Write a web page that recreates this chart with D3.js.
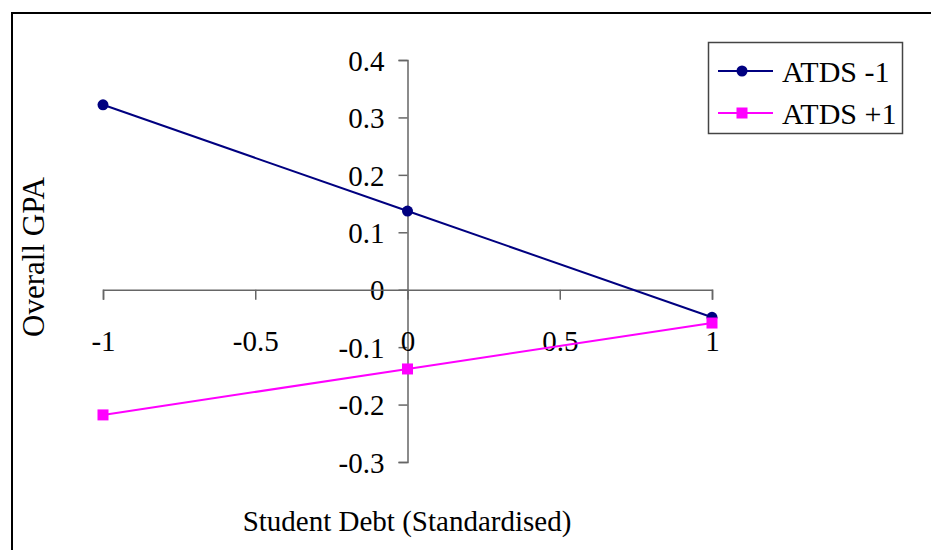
<!DOCTYPE html>
<html>
<head>
<meta charset="utf-8">
<script src="https://cdn.jsdelivr.net/npm/d3@7/dist/d3.min.js"></script>
<style>
  html, body { margin: 0; padding: 0; background: #fff; }
  svg { display: block; }
  text { font-family: "Liberation Serif", "Times New Roman", serif; fill: #000; }
</style>
</head>
<body>
<svg id="chart" width="931" height="550"></svg>
<script>
// Simple slopes: Overall GPA by standardised student debt at two ATDS levels
const debtLevels = [-1, 0, 1];
const atdsLow = [0.322, 0.137, -0.048];   // ATDS -1
const atdsHigh = [-0.218, -0.138, -0.058]; // ATDS +1
const seriesNames = ["ATDS -1", "ATDS +1"];
const xTicks = [-1, -0.5, 0, 0.5, 1];
const yTicks = [-0.3, -0.2, -0.1, 0, 0.1, 0.2, 0.3, 0.4];

const svg = d3.select("#chart");
const FONT = "29px";

// Outer chart frame (open at right/bottom edges of the page)
svg.append("path")
  .attr("d", "M12,560 L12,13 L940,13")
  .attr("fill", "none").attr("stroke", "#000").attr("stroke-width", 2);

const x = d3.scaleLinear().domain([-1, 1]).range([103, 712]);
const y = d3.scaleLinear().domain([-0.3, 0.4]).range([462, 60]);

const axisColor = "#666";

// Y axis through x = 0
const yAxis = svg.append("g")
  .attr("transform", `translate(${x(0)},0)`)
  .call(d3.axisLeft(y).tickValues(yTicks).tickSize(9).tickPadding(14)
    .tickFormat(d => String(+d.toFixed(1))));
yAxis.select(".domain").attr("stroke", axisColor).attr("stroke-width", 1.5);
yAxis.selectAll(".tick line").attr("stroke", axisColor).attr("stroke-width", 1.5);
yAxis.selectAll(".tick text")
  .style("font-family", "Liberation Serif, serif").style("font-size", FONT)
  .attr("fill", "#000").attr("dy", "0.35em");

// X axis through y = 0
const xAxis = svg.append("g")
  .attr("transform", `translate(0,${y(0)})`)
  .call(d3.axisBottom(x).tickValues(xTicks).tickSize(10).tickPadding(41)
    .tickFormat(d => String(d)));
xAxis.select(".domain").attr("stroke", axisColor).attr("stroke-width", 1.5);
xAxis.selectAll(".tick line").attr("stroke", axisColor).attr("stroke-width", 1.5);
xAxis.selectAll(".tick text")
  .style("font-family", "Liberation Serif, serif").style("font-size", FONT)
  .attr("fill", "#000").attr("dy", "0.35em");

const line = d3.line().x(d => x(d[0])).y(d => y(d[1]));

const series = [
  { name: seriesNames[0], values: atdsLow, color: "#000080", shape: "circle" },
  { name: seriesNames[1], values: atdsHigh, color: "#FF00FF", shape: "square" }
];

series.forEach(s => {
  const pts = debtLevels.map((d, i) => [d, s.values[i]]);
  svg.append("path").datum(pts)
    .attr("d", line).attr("fill", "none")
    .attr("stroke", s.color).attr("stroke-width", 2);
  drawMarkers(svg, pts.map(p => [x(p[0]), y(p[1])]), s);
});

function drawMarkers(g, coords, s) {
  coords.forEach(([cx, cy]) => {
    if (s.shape === "circle") {
      g.append("circle").attr("cx", cx).attr("cy", cy).attr("r", 5.5).attr("fill", s.color);
    } else {
      g.append("rect").attr("x", cx - 5.5).attr("y", cy - 5.5)
        .attr("width", 11).attr("height", 11).attr("fill", s.color);
    }
  });
}

// Legend
const legend = svg.append("g");
legend.append("rect")
  .attr("x", 708.5).attr("y", 42.5).attr("width", 194).attr("height", 91)
  .attr("fill", "#fff").attr("stroke", "#444").attr("stroke-width", 1.5);
series.forEach((s, i) => {
  const ly = 71 + i * 42;
  legend.append("line").attr("x1", 718).attr("x2", 773).attr("y1", ly).attr("y2", ly)
    .attr("stroke", s.color).attr("stroke-width", 2);
  drawMarkers(legend, [[742, ly]], s);
  legend.append("text").attr("x", 782).attr("y", ly).attr("dy", "0.35em")
    .style("font-size", "30px").text(s.name);
});

// Axis titles
svg.append("text").attr("x", 407).attr("y", 531).attr("text-anchor", "middle")
  .style("font-size", FONT).text("Student Debt (Standardised)");
svg.append("text")
  .attr("transform", "translate(33,257) rotate(-90)")
  .attr("text-anchor", "middle").attr("dy", "0.35em")
  .style("font-size", "31px").text("Overall GPA");
</script>
</body>
</html>
